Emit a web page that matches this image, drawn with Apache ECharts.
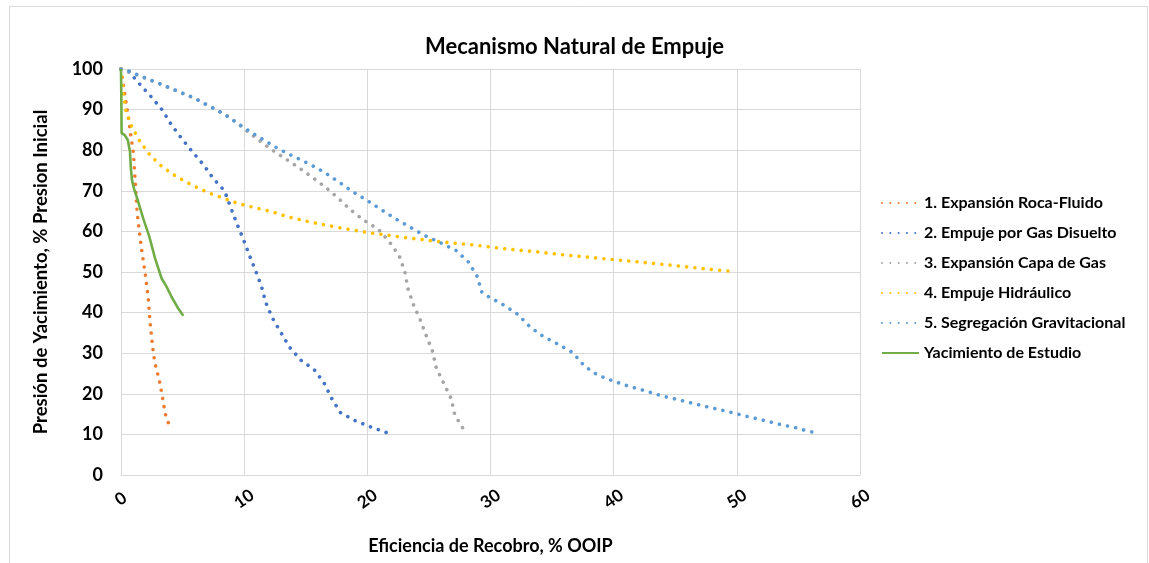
<!DOCTYPE html>
<html>
<head>
<meta charset="utf-8">
<script src="https://cdn.jsdelivr.net/npm/echarts@6/dist/echarts.min.js"></script>
<style>html,body{margin:0;padding:0;background:#fff}#c{width:1149px;height:563px}</style>
</head>
<body>
<div id="c"></div>
<script>
const seriesNames = ["1. Expansión Roca-Fluido","2. Empuje por Gas Disuelto","3. Expansión Capa de Gas","4. Empuje Hidráulico","5. Segregación Gravitacional","Yacimiento de Estudio"];
const xTicks = [0,10,20,30,40,50,60];
const yTicks = [0,10,20,30,40,50,60,70,80,90,100];

const rocaFluido = [[0,100],[0.3,94],[0.6,88],[0.8,83.5],[1.0,79.5],[1.1,75],[1.2,70],[1.3,65],[1.45,61],[1.65,56],[1.95,50],[2.2,44],[2.35,38],[2.55,32],[2.75,27.5],[3.1,23.5],[3.35,19.5],[3.6,15],[4.05,11]];
const gasDisuelto = [[0,100],[0.6,99.5],[1.6,96],[2.5,93],[3.4,89.7],[4.1,86.2],[4.9,83],[5.8,79.6],[6.7,76.4],[7.5,73],[8.4,70],[8.9,66],[9.4,62],[9.9,58.3],[10.4,54.3],[10.9,50.5],[11.4,46.5],[11.75,42.5],[12.3,38.6],[13.0,35],[13.7,31.4],[14.6,28.3],[15.7,25.9],[16.5,22.6],[17.1,18.9],[17.8,15.4],[19.0,13.4],[20.3,11.8],[21.6,10.4]];
const capaGas = [[0,100],[3.2,96.3],[6.4,92.2],[8.8,88.2],[9.9,85.5],[11,82.9],[12.1,80.4],[13.2,78.2],[14.4,75.8],[15.5,73.4],[16.6,70.9],[17.6,68.3],[18.6,65.4],[19.7,62.8],[20.9,60.5],[21.8,57.4],[22.6,53.9],[23.05,50],[23.3,45.9],[23.75,41.9],[24.3,38.2],[24.8,34.2],[25.3,30.4],[25.6,26.3],[26.2,22.6],[26.8,18.9],[27.1,14.8],[27.8,11.3]];
const hidraulico = [[0,100],[0.05,98],[0.2,93.8],[0.4,89.7],[0.87,85.8],[1.54,82.1],[2.35,78.8],[3.35,75.9],[4.5,73.5],[5.7,71.5],[6.95,69.7],[8.2,68.3],[9.5,66.9],[10.9,65.8],[12.2,64.9],[13.55,63.6],[14.9,62.6],[16.2,61.8],[17.6,61],[18.9,60.3],[20.3,59.6],[21.6,59.1],[23,58.5],[24.4,58],[25.75,57.5],[27.1,57.1],[28.5,56.7],[29.9,56.2],[31.2,55.7],[32.6,55.3],[34,54.9],[35.4,54.4],[36.7,54],[38.1,53.6],[40.15,53],[41.6,52.6],[44.3,51.8],[47,50.9],[49.8,50.1]];
const segregacion = [[0,100],[0.6,99.5],[1.9,97.9],[3.2,96.3],[4.46,94.7],[5.76,93.1],[6.95,91.2],[8.2,89.2],[9.33,86.9],[10.47,84.6],[11.66,82.4],[12.8,80.3],[14.07,78.4],[15.3,76.6],[16.5,74.6],[17.67,72.2],[18.8,69.8],[19.95,67.7],[21.1,65.4],[22.3,63.1],[23.5,61],[24.7,58.9],[25.95,57.2],[27.2,55.3],[28.2,52.5],[28.9,49],[29.3,45],[29.9,43.8],[31.1,41.8],[32.2,39.6],[33.2,36.5],[34.3,34.1],[35.5,32.2],[36.7,30.1],[37.6,26.9],[38.7,24.6],[40.0,23.1],[41.3,21.8],[42.6,20.7],[43.9,19.5],[45.3,18.5],[46.6,17.5],[48.0,16.5],[49.3,15.6],[50.6,14.6],[52.0,13.6],[53.3,12.6],[54.7,11.7],[55.9,10.7],[56.7,10.3]];
const estudio = [[0,100],[0.03,92],[0.05,84.2],[0.3,83.7],[0.55,82.5],[0.73,79.6],[0.8,75.5],[0.9,72.5],[1.05,70.6],[1.4,67.3],[1.8,63.2],[2.3,58.7],[2.76,53.4],[3.3,48.4],[3.7,46.4],[4.1,43.9],[4.65,41],[5.06,39.2]];

const colors = ["#ED7D31","#4472C4","#A5A5A5","#FFC000","#5B9BD5","#70AD47"];
const datasets = [rocaFluido, gasDisuelto, capaGas, hidraulico, segregacion, estudio];
const FONT = "Lato, 'Liberation Sans', sans-serif";

const chart = echarts.init(document.getElementById('c'), null, {renderer:'canvas'});
const series = datasets.map((d,i)=>({
  name: seriesNames[i],
  type: 'line',
  data: d,
  showSymbol: false,
  symbol: 'none',
  smooth: false,
  color: colors[i],
  lineStyle: i<5 ? {color: colors[i], width: 3.6, type: [0.01, 8.3], cap: 'round'} : {color: colors[i], width: 2.6},
  animation: false,
  z: 2+i
}));

chart.setOption({
  animation: false,
  backgroundColor: '#fff',
  graphic: [{type:'rect', shape:{x:9.5,y:6.5,width:1138,height:570}, style:{fill:'none', stroke:'#d9d9d9', lineWidth:1}, silent:true, z:-1}],
  title: {text:'Mecanismo Natural de Empuje', left:'center', top:31, textStyle:{fontFamily:FONT, fontSize:22, fontWeight:'bold', color:'#000'}},
  legend: {
    orient:'vertical', left:876, top:190, itemWidth:37, itemHeight:14, itemGap:14,
    data: seriesNames.map(n=>({name:n, itemStyle:{opacity:0}})),
    textStyle:{fontFamily:FONT, fontSize:16, fontWeight:'bold', color:'#000'}
  },
  grid: {left:121, right:289, top:69, bottom:88, containLabel:false},
  xAxis: {
    type:'value', min:0, max:60, interval:10,
    name:'Eficiencia de Recobro, % OOIP', nameLocation:'middle', nameGap:62,
    nameTextStyle:{fontFamily:FONT, fontSize:18, fontWeight:'bold', color:'#000'},
    axisLine:{show:true, lineStyle:{color:'#d9d9d9', width:1}},
    axisTick:{show:false},
    splitLine:{show:true, lineStyle:{color:'#d9d9d9', width:1}},
    axisLabel:{rotate:35, fontFamily:FONT, fontSize:17, fontWeight:'bold', color:'#000', margin:24, align:'center', verticalAlign:'middle',
      formatter: v => xTicks.includes(v) ? String(v) : ''}
  },
  yAxis: {
    type:'value', min:0, max:100, interval:10,
    name:'Presión de Yacimiento, % Presion Inicial', nameLocation:'middle', nameGap:70, nameRotate:90,
    nameTextStyle:{fontFamily:FONT, fontSize:18.5, fontWeight:'bold', color:'#000'},
    axisLine:{show:true, lineStyle:{color:'#d9d9d9', width:1}},
    axisTick:{show:false},
    splitLine:{show:true, lineStyle:{color:'#d9d9d9', width:1}},
    axisLabel:{fontFamily:FONT, fontSize:18, fontWeight:'bold', color:'#000', margin:18,
      formatter: v => yTicks.includes(v) ? String(v) : ''}
  },
  series: series
});
</script>
</body>
</html>
